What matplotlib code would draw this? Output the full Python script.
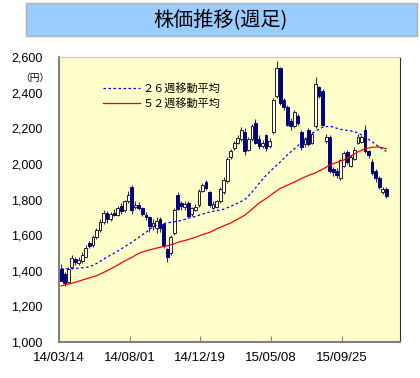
import numpy as np
import matplotlib
matplotlib.use("Agg")
import matplotlib.pyplot as plt
from matplotlib.patches import Rectangle

plt.rcParams['font.family'] = ['Liberation Sans', 'Noto Sans CJK JP', 'DejaVu Sans']
JP = ['Noto Sans CJK JP', 'DejaVu Sans']

# weekly candles, index 0 = 14/03/14
opens = [1410, 1380, 1335, 1420, 1465, 1445, 1455, 1480, 1555, 1545,
         1590, 1630, 1675, 1725, 1690, 1725, 1715, 1765, 1740, 1790,
         1870, 1760, 1770, 1750, 1715, 1700, 1650, 1640, 1690, 1660,
         1520, 1500, 1610, 1825, 1780, 1760, 1780, 1720, 1740, 1770,
         1850, 1900, 1840, 1755, 1760, 1790, 1840, 1905, 2040, 2090,
         2120, 2140, 2180, 2080, 2140, 2230, 2140, 2100, 2160, 2100,
         2180, 2380, 2540, 2360, 2320, 2240, 2210, 2270, 2180, 2110,
         2190, 2120, 2210, 2430, 2410, 2130, 2150, 1970, 1960, 1920,
         1990, 2065, 1990, 2030, 2120, 2125, 2190, 2070, 2010, 1960,
         1920, 1840, 1860]
closes = [1345, 1330, 1410, 1470, 1450, 1460, 1490, 1530, 1540, 1590,
          1630, 1675, 1725, 1690, 1720, 1715, 1750, 1735, 1790, 1825,
          1740, 1770, 1755, 1720, 1700, 1650, 1670, 1680, 1640, 1540,
          1475, 1590, 1740, 1745, 1765, 1775, 1705, 1750, 1760, 1850,
          1880, 1865, 1770, 1775, 1790, 1860, 1910, 2030, 2070, 2120,
          2145, 2190, 2070, 2140, 2210, 2120, 2100, 2120, 2090, 2130,
          2360, 2540, 2340, 2320, 2220, 2210, 2290, 2230, 2095, 2140,
          2110, 2170, 2450, 2380, 2220, 2150, 1960, 1955, 1940, 2020,
          2060, 2010, 2040, 2080, 2150, 2150, 2070, 2050, 1950, 1920,
          1870, 1860, 1820]
highs = [1440, 1395, 1420, 1490, 1480, 1475, 1505, 1545, 1565, 1600,
         1640, 1690, 1740, 1735, 1730, 1745, 1765, 1780, 1800, 1845,
         1880, 1790, 1785, 1760, 1730, 1705, 1690, 1700, 1700, 1670,
         1530, 1600, 1750, 1840, 1790, 1790, 1790, 1760, 1775, 1860,
         1890, 1910, 1850, 1790, 1800, 1870, 1925, 2040, 2085, 2130,
         2160, 2205, 2200, 2150, 2225, 2250, 2160, 2135, 2170, 2145,
         2370, 2580, 2545, 2370, 2330, 2260, 2300, 2280, 2190, 2150,
         2200, 2180, 2490, 2440, 2420, 2165, 2160, 1985, 1975, 2030,
         2075, 2080, 2050, 2095, 2165, 2160, 2220, 2080, 2025, 1970,
         1930, 1870, 1870]
lows = [1395, 1315, 1330, 1410, 1430, 1435, 1445, 1475, 1525, 1535,
        1580, 1620, 1665, 1670, 1680, 1705, 1705, 1720, 1730, 1780,
        1720, 1745, 1740, 1705, 1685, 1620, 1630, 1610, 1620, 1530,
        1450, 1490, 1600, 1740, 1740, 1740, 1700, 1710, 1735, 1760,
        1840, 1855, 1760, 1745, 1750, 1780, 1830, 1895, 2030, 2080,
        2110, 2130, 2050, 2070, 2130, 2110, 2085, 2090, 2070, 2090,
        2170, 2370, 2330, 2300, 2210, 2190, 2200, 2220, 2080, 2095,
        2100, 2110, 2200, 2370, 2210, 2120, 1950, 1930, 1920, 1910,
        1980, 2000, 1980, 2020, 2110, 2115, 2060, 2035, 1940, 1900,
        1860, 1830, 1810]

# moving averages, read every 2 weeks
ma_weeks = list(range(0, 93, 2))
ma26 = [1410, 1412, 1413, 1416, 1422, 1440, 1465, 1488, 1510, 1535,
        1560, 1588, 1615, 1648, 1662, 1668, 1675, 1682, 1695, 1705,
        1718, 1730, 1737, 1745, 1762, 1780, 1800, 1840, 1890, 1935,
        1975, 2010, 2050, 2085, 2120, 2155, 2185, 2205, 2212, 2200,
        2190, 2185, 2175, 2150, 2125, 2095, 2070]
ma52 = [1315, 1325, 1335, 1348, 1360, 1372, 1390, 1410, 1432, 1455,
        1475, 1498, 1512, 1522, 1532, 1540, 1552, 1565, 1575, 1588,
        1603, 1615, 1635, 1652, 1668, 1690, 1712, 1745, 1780, 1805,
        1835, 1862, 1880, 1898, 1918, 1935, 1950, 1970, 1993, 2008,
        2022, 2045, 2068, 2085, 2093, 2095, 2085]

tick_pos = [0, 20, 40, 60, 80]
tick_labels = ['14/03/14', '14/08/01', '14/12/19', '15/05/08', '15/09/25']
y_ticks = [1000, 1200, 1400, 1600, 1800, 2000, 2200, 2400, 2600]

fig = plt.figure(figsize=(4.2, 3.78), dpi=100)
ax = fig.add_axes([59/420, 36/378, 341/420, 285/378])
ax.set_facecolor('#FFFFCC')

o = np.array(opens)
c = np.array(closes)
x = np.arange(len(o)) + 0.6
up = c >= o

ax.vlines(x, lows, highs, color='#303030', lw=0.8, zorder=2)
body_bot = np.minimum(o, c)
body_h = np.maximum(np.abs(c - o), 4)
ax.bar(x[up], body_h[up], bottom=body_bot[up], width=0.8,
       color='white', edgecolor='#202020', lw=0.7, zorder=3)
ax.bar(x[~up], body_h[~up], bottom=body_bot[~up], width=0.8,
       color='#000080', edgecolor='#000080', lw=0.7, zorder=3)

mx = np.array(ma_weeks) + 0.6
ax.plot(mx, ma26, color='#0000FF', lw=0.9, ls=(0, (2, 2)), zorder=4)
ax.plot(mx, ma52, color='#FF0000', lw=0.9, zorder=4)

ax.set_xlim(0, 96.5)
ax.set_ylim(1000, 2600)
ax.set_yticks(y_ticks)
ax.set_yticklabels([f'{v:,}' for v in y_ticks], fontsize=9)
ax.set_xticks(tick_pos)
ax.set_xticklabels(tick_labels, fontsize=9.5)
ax.tick_params(axis='y', length=0, pad=12)
ax.tick_params(axis='x', direction='in', length=4, color='#808080', pad=7)

for s in ['left', 'bottom']:
    ax.spines[s].set_color('#808080')
    ax.spines[s].set_linewidth(1.5)
ax.spines['top'].set_color('#C8C8C8')
ax.spines['right'].set_color('#303030')

# legend
ax.plot([0.129, 0.238], [0.891, 0.891], transform=ax.transAxes,
        color='#0000FF', lw=0.9, ls=(0, (2, 2)))
ax.plot([0.129, 0.238], [0.838, 0.838], transform=ax.transAxes,
        color='#FF0000', lw=0.9)
ax.text(0.246, 0.891, '２６週移動平均', transform=ax.transAxes,
        fontsize=8, family=JP, va='center')
ax.text(0.246, 0.838, '５２週移動平均', transform=ax.transAxes,
        fontsize=8, family=JP, va='center')

fig.text(35/420, 1 - 78/378, '（円）', fontsize=7, family=JP,
         ha='center', va='center')

# title box
fig.patches.append(Rectangle((26/420, 1 - 36/378), 391/420, 33/378,
                             transform=fig.transFigure, facecolor='#99CCFF',
                             edgecolor='#B0B0B0', lw=1))
fig.text(220/420, 1 - 20/378, '株価推移(週足)', fontsize=14.5, family=JP,
         ha='center', va='center')

fig.savefig('out.png', dpi=100)
